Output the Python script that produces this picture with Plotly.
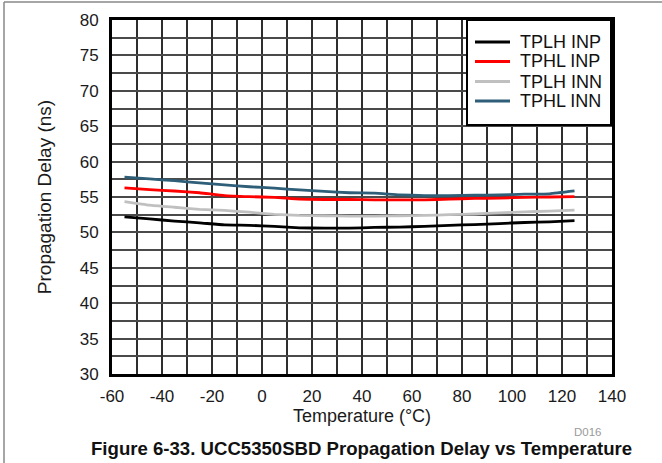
import plotly.graph_objects as go

# Temperature sweep (°C)
temperature = [-55, -45, -35, -25, -15, -5, 5, 15, 25, 35, 45, 55, 65, 75, 85, 95, 105, 115, 125]

# Propagation delay (ns)
tplh_inp = [52.2, 51.9, 51.6, 51.35, 51.05, 51.0, 50.85, 50.65, 50.6, 50.6, 50.7, 50.75,
            50.85, 51.0, 51.1, 51.25, 51.4, 51.5, 51.65]
tphl_inp = [56.3, 56.05, 55.85, 55.6, 55.2, 55.05, 54.95, 54.7, 54.65, 54.65, 54.6, 54.6,
            54.6, 54.7, 54.8, 54.85, 54.95, 55.0, 55.05]
tplh_inn = [54.35, 53.85, 53.55, 53.25, 53.1, 52.85, 52.55, 52.4, 52.35, 52.3, 52.3, 52.35,
            52.4, 52.5, 52.6, 52.75, 52.9, 53.0, 53.15]
tphl_inn = [57.8, 57.55, 57.3, 57.0, 56.7, 56.45, 56.25, 56.0, 55.8, 55.6, 55.55, 55.3,
            55.2, 55.2, 55.25, 55.3, 55.4, 55.45, 55.85]

series = [
    ("TPLH INP", tplh_inp, "#000000"),
    ("TPHL INP", tphl_inp, "#ff0000"),
    ("TPLH INN", tplh_inn, "#c0c0c0"),
    ("TPHL INN", tphl_inn, "#2e5e78"),
]

x_ticks = [-60, -40, -20, 0, 20, 40, 60, 80, 100, 120, 140]
y_ticks = [30, 35, 40, 45, 50, 55, 60, 65, 70, 75, 80]

FONT = "Arial, Liberation Sans, sans-serif"

# Plot area geometry in pixels (used to place the caption, legend box and page frame)
L, R, T, B = 112, 612, 20, 374
W, H = R - L, B - T


def px(xp):
    return (xp - L) / W


def py(yp):
    return (B - yp) / H


fig = go.Figure()
for name, values, color in series:
    fig.add_trace(go.Scatter(
        x=temperature, y=values, name=name, mode="lines",
        line=dict(color=color, width=2.8, shape="spline", smoothing=0.4),
        showlegend=False,
    ))

fig.update_layout(
    width=662, height=463,
    margin=dict(l=L, r=662 - R, t=T, b=463 - B),
    paper_bgcolor="white", plot_bgcolor="white",
    font=dict(family=FONT, size=18, color="#1a1a1a"),
    showlegend=False,
    xaxis=dict(
        range=[-60, 140], tickvals=x_ticks, ticktext=[str(v) for v in x_ticks],
        showgrid=True, gridcolor="#2e2e2e", gridwidth=1.6,
        minor=dict(dtick=10, tick0=-60, showgrid=True, gridcolor="#2e2e2e", gridwidth=1.6),
        showline=True, linecolor="black", linewidth=3, mirror=True,
        ticks="", zeroline=False, ticklabelstandoff=5,
        tickfont=dict(size=17),
        title=dict(text="Temperature (°C)", font=dict(size=18), standoff=2),
    ),
    yaxis=dict(
        range=[30, 80], tickvals=y_ticks, ticktext=[str(v) for v in y_ticks],
        showgrid=True, gridcolor="#4a4a4a", gridwidth=1.6,
        minor=dict(dtick=2.5, tick0=30, showgrid=True, gridcolor="#4a4a4a", gridwidth=1.6),
        showline=True, linecolor="black", linewidth=3, mirror=True,
        ticks="", zeroline=False, ticklabelstandoff=7,
        tickfont=dict(size=17),
        title=dict(text="Propagation Delay (ns)", font=dict(size=19), standoff=24),
    ),
)

# Legend box drawn inside the top-right corner of the plot
fig.add_shape(type="rect", xref="paper", yref="paper",
              x0=px(467), x1=px(611), y0=py(125), y1=py(20),
              fillcolor="white", line=dict(color="black", width=2), layer="above")
rows = [42, 61.5, 81.5, 101]
for (name, _, color), row in zip(series, rows):
    fig.add_shape(type="line", xref="paper", yref="paper",
                  x0=px(475), x1=px(510), y0=py(row), y1=py(row),
                  line=dict(color=color, width=3), layer="above")
    fig.add_annotation(text=name, xref="paper", yref="paper",
                       x=px(518), y=py(row), xanchor="left", yanchor="middle",
                       showarrow=False, font=dict(family=FONT, size=18, color="#111"))

# Figure caption and drawing id
fig.add_annotation(
    text="<b>Figure 6-33. UCC5350SBD Propagation Delay vs Temperature</b>",
    xref="paper", yref="paper", x=px(361), y=py(449),
    xanchor="center", yanchor="middle", showarrow=False,
    font=dict(family=FONT, size=18.6, color="#111"),
)
fig.add_annotation(
    text="D016", xref="paper", yref="paper", x=px(604), y=py(432),
    xanchor="right", yanchor="middle", showarrow=False,
    font=dict(family=FONT, size=11.5, color="#9a9a9a"),
)

# Thin page frame along the top and left edges
fig.add_shape(type="line", xref="paper", yref="paper",
              x0=px(4), x1=px(662), y0=py(2), y1=py(2),
              line=dict(color="#888888", width=1.5))
fig.add_shape(type="line", xref="paper", yref="paper",
              x0=px(4), x1=px(4), y0=py(2), y1=py(470),
              line=dict(color="#888888", width=1.5))

fig.write_html("out.html")
